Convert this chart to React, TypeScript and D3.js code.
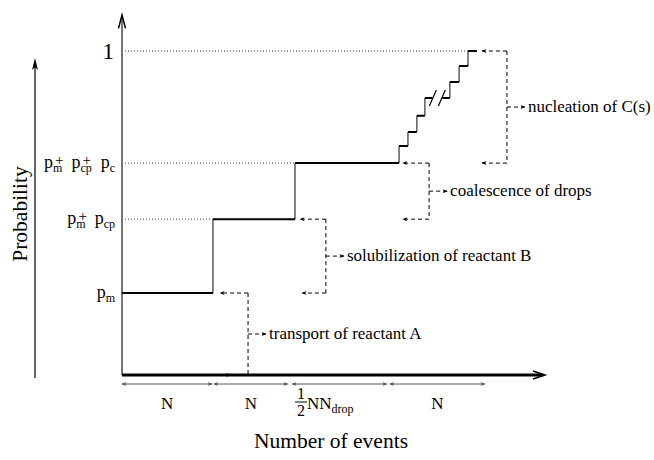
import React from 'react';
import * as d3 from 'd3';

// step levels of the probability staircase (event units 0..100, probability 0..1)
const stepStarts = [0, 21.5, 40.9, 65.5, 67.6, 69.7, 71.6, 77.5, 79.7, 81.8];
const stepLevels = [0.253, 0.481, 0.654, 0.707, 0.75, 0.8, 0.855, 0.904, 0.954, 1.0];
const stepEnd = 83.9;
const breakStep = 6; // index of the step drawn with the // break

// labelled probability levels
const tickLevels = [0.253, 0.481, 0.654, 1.0];
const tickLabels = [['m'], ['m', 'cp'], ['m', 'cp', 'c'], []];
const guideEnds = [0, 21.5, 40.9, 81.8];

// dashed bracket annotations
const annLabels = ['transport of reactant A', 'solubilization of reactant B', 'coalescence of drops', 'nucleation of C(s)'];
const annTop = [0.253, 0.481, 0.654, 1.0];
const annBottom = [0, 0.253, 0.481, 0.654];
const annTipTop = [23.2, 42.1, 66.4, 85.1];
const annTipBottom = [24.1, 42.6, 66.4, 85.1];
const annLineX = [29.8, 48.2, 72.6, 91.0];

// event ranges under the axis
const braceStart = [0, 21.7, 40.2, 63.3];
const braceEnd = [21.3, 39.2, 62.6, 85.8];
const braceLabels = ['N', 'N', 'NNdrop', 'N'];

const W = 654;
const H = 460;
const font = 'Liberation Serif, Times New Roman, serif';

const x = d3.scaleLinear().domain([0, 100]).range([122, 545]);
const y = d3.scaleLinear().domain([0, 1]).range([375, 51]);

// approximate advance widths of subscripts at 12px
const subW: Record<string, number> = { m: 9.3, cp: 11.3, c: 5.3 };

const ProbLabel = ({ subs, yy }: { subs: string[]; yy: number }) => {
  if (subs.length === 0) {
    return (
      <text x={114} y={yy + 8} textAnchor="end" fontSize={23} fontFamily={font}>
        1
      </text>
    );
  }
  const items: React.ReactNode[] = [];
  subs.forEach((s, i) => {
    const w = subW[s];
    items.push(
      <tspan key={'p' + i} fontSize={18} dy={i === 0 ? 0 : 3} dx={i === 0 ? 0 : 5}>p</tspan>,
      <tspan key={'s' + i} fontSize={12} dy={4}>{s}</tspan>
    );
    if (i + 1 < subs.length) {
      items.push(
        <tspan key={'q' + i} fontSize={15} dx={-w + 2} dy={-7}>+</tspan>,
        <tspan key={'g' + i} fontSize={14} dx={w - 10}> </tspan>
      );
    }
  });
  return (
    <text x={115} y={yy + 5} textAnchor="end" fontFamily={font}>
      {items}
    </text>
  );
};

const App = () => {
  // staircase path
  const horiz: string[] = [];
  const vert: string[] = [];
  stepLevels.forEach((lv, i) => {
    const x0 = x(stepStarts[i]);
    const x1 = i + 1 < stepStarts.length ? x(stepStarts[i + 1]) : x(stepEnd);
    if (i === breakStep) {
      const mid = (x0 + x1) / 2;
      horiz.push(`M${x0},${y(lv)}H${mid - 5}M${mid + 5},${y(lv)}H${x1}`);
    } else {
      horiz.push(`M${x0},${y(lv)}H${x1}`);
    }
    if (i + 1 < stepLevels.length) {
      vert.push(`M${x1},${y(lv)}V${y(stepLevels[i + 1])}`);
    }
  });
  const bx = (x(stepStarts[breakStep]) + x(stepStarts[breakStep + 1])) / 2;
  const by = y(stepLevels[breakStep]);

  const braceY = 384;

  return (
    <svg width={W} height={H} style={{ position: 'absolute', left: 0, top: 0, background: '#fff' }}>
      <defs>
        <marker id="ah" viewBox="0 0 10 10" refX="9" refY="5" markerWidth="7" markerHeight="5" orient="auto" markerUnits="userSpaceOnUse">
          <path d="M0,1 L10,5 L0,9 L3,5 Z" fill="#000" />
        </marker>
        <marker id="ahs" viewBox="0 0 10 10" refX="9" refY="5" markerWidth="7" markerHeight="5" orient="auto-start-reverse" markerUnits="userSpaceOnUse">
          <path d="M0,1 L10,5 L0,9 L3,5 Z" fill="#555" />
        </marker>
      </defs>

      {/* Probability side arrow and title */}
      <line x1={35} y1={378} x2={35} y2={62} stroke="#000" strokeWidth={1.2} />
      <path d="M35,58 L32,70 L35,67 L38,70 Z" fill="#000" />
      <text transform="translate(27,214) rotate(-90)" textAnchor="middle" fontSize={21.5} fontFamily={font}>
        Probability
      </text>

      {/* dotted guides */}
      {tickLevels.map((lv, i) =>
        guideEnds[i] > 0 ? (
          <line key={i} x1={x(0)} x2={x(guideEnds[i])} y1={y(lv)} y2={y(lv)} stroke="#444" strokeWidth={1} strokeDasharray="1,2" />
        ) : null
      )}

      {/* axes */}
      <line x1={x(0)} y1={y(0)} x2={x(0)} y2={y(1.105)} stroke="#777" strokeWidth={2} />
      <path d={`M${x(0) - 3.5},${y(1.07)} L${x(0)},${y(1.111)} L${x(0) + 3.5},${y(1.07)}`} fill="none" stroke="#000" strokeWidth={1.5} />
      <line x1={x(0)} y1={y(0)} x2={x(100) - 2} y2={y(0)} stroke="#000" strokeWidth={3} />
      <path d={`M${x(100) - 12},${y(0) - 4} L${x(100)},${y(0)} L${x(100) - 12},${y(0) + 4}`} fill="none" stroke="#000" strokeWidth={1.5} />

      {/* staircase */}
      <path d={vert.join('')} fill="none" stroke="#666" strokeWidth={1.6} />
      <path d={horiz.join('')} fill="none" stroke="#000" strokeWidth={2} />
      <path d={`M${bx - 8},${by + 8} L${bx - 1},${by - 8} M${bx + 1},${by + 8} L${bx + 8},${by - 8}`} stroke="#000" strokeWidth={1.2} />

      {/* tick labels */}
      {tickLevels.map((lv, i) => (
        <ProbLabel key={i} subs={tickLabels[i]} yy={y(lv)} />
      ))}

      {/* dashed bracket annotations */}
      {annLabels.map((lab, i) => {
        const lx = x(annLineX[i]);
        const yt = y(annTop[i]);
        const yb = y(annBottom[i]);
        const ym = (yt + yb) / 2;
        return (
          <g key={i}>
            <line x1={lx} x2={lx} y1={yt} y2={yb} stroke="#000" strokeWidth={1} strokeDasharray="4,3" />
            <line x1={lx} x2={x(annTipTop[i])} y1={yt} y2={yt} stroke="#000" strokeWidth={1} strokeDasharray="4,3" markerEnd="url(#ah)" />
            <line x1={lx} x2={x(annTipBottom[i])} y1={yb} y2={yb} stroke="#000" strokeWidth={1} strokeDasharray="4,3" markerEnd="url(#ah)" />
            <line x1={lx} x2={lx + 18} y1={ym} y2={ym} stroke="#000" strokeWidth={1} strokeDasharray="4,3" markerEnd="url(#ah)" />
            <text x={lx + 21} y={ym + 5} fontSize={17} fontFamily={font}>
              {lab}
            </text>
          </g>
        );
      })}

      {/* event ranges */}
      {braceStart.map((s, i) => (
        <g key={i}>
          <line x1={x(s)} x2={x(braceEnd[i])} y1={braceY} y2={braceY} stroke="#555" strokeWidth={1} markerStart="url(#ahs)" markerEnd="url(#ahs)" />
          {braceLabels[i] === 'NNdrop' ? (
            <g fontFamily={font}>
              <text x={x(s) + 9} y={399} textAnchor="middle" fontSize={16}>1</text>
              <line x1={x(s) + 3} x2={x(s) + 15} y1={402} y2={402} stroke="#000" strokeWidth={1} />
              <text x={x(s) + 9} y={416} textAnchor="middle" fontSize={16}>2</text>
              <text x={x(s) + 15} y={409} fontSize={17}>
                NN<tspan fontSize={12} dy={4}>drop</tspan>
              </text>
            </g>
          ) : (
            <text x={x((s + braceEnd[i]) / 2)} y={409} textAnchor="middle" fontSize={17} fontFamily={font}>
              {braceLabels[i]}
            </text>
          )}
        </g>
      ))}

      <text x={331} y={448} textAnchor="middle" fontSize={21.5} fontFamily={font}>
        Number of events
      </text>
    </svg>
  );
};

export default App;
